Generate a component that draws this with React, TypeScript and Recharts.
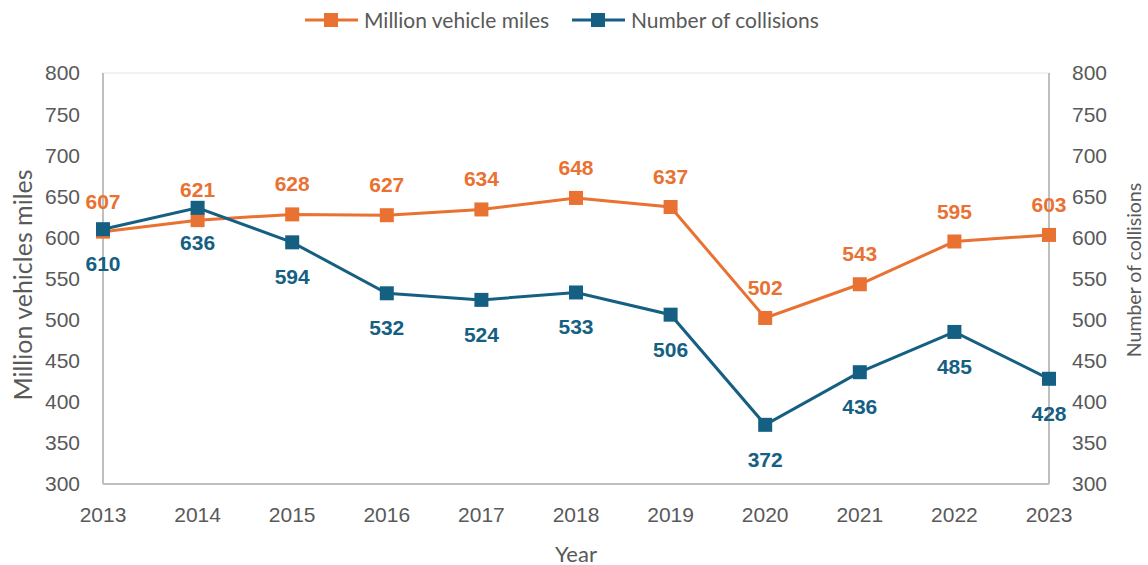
import { LineChart, Line, XAxis, YAxis, CartesianGrid, Legend, LabelList } from 'recharts';

const years = ['2013', '2014', '2015', '2016', '2017', '2018', '2019', '2020', '2021', '2022', '2023'];
const vehicleMiles = [607, 621, 628, 627, 634, 648, 637, 502, 543, 595, 603];
const collisions = [610, 636, 594, 532, 524, 533, 506, 372, 436, 485, 428];
const yTicks = [300, 350, 400, 450, 500, 550, 600, 650, 700, 750, 800];

const ORANGE = '#E97132';
const BLUE = '#156082';
const GRAY = '#595959';
const AXIS = '#bfbfbf';
const titleFont = 'Lato, "Noto Sans", sans-serif';
const tickFont = '"Liberation Sans", Arial, sans-serif';

const data = years.map((y, i) => ({ year: y, miles: vehicleMiles[i], collisions: collisions[i] }));

const squareDot = (color: string) => (props: any) => {
  const { cx, cy, index } = props;
  if (cx == null || cy == null) return null;
  return <rect key={index} x={cx - 7} y={cy - 7} width={14} height={14} fill={color} />;
};

const legendItems = [
  { name: 'Million vehicle miles', color: ORANGE, w: 208 },
  { name: 'Number of collisions', color: BLUE, w: 220 },
];

function TopLegend() {
  return (
    <div style={{ display: 'flex', paddingLeft: 305, fontFamily: titleFont, fontSize: 21, color: GRAY }}>
      {legendItems.map((it) => (
        <div key={it.name} style={{ display: 'flex', alignItems: 'center', width: 59 + it.w }}>
          <svg width={53} height={16} style={{ marginRight: 6 }}>
            <line x1={0} y1={8} x2={53} y2={8} stroke={it.color} strokeWidth={3} />
            <rect x={19} y={1} width={14} height={14} fill={it.color} />
          </svg>
          <span style={{ whiteSpace: 'nowrap' }}>{it.name}</span>
        </div>
      ))}
    </div>
  );
}

const axisTitle = (text: string, x: number, y: number, angle: number, size: number) => () => (
  <text
    x={x}
    y={y}
    transform={angle ? `rotate(${angle} ${x} ${y})` : undefined}
    textAnchor="middle"
    dominantBaseline="central"
    fill={GRAY}
    fontFamily={titleFont}
    fontSize={size}
  >
    {text}
  </text>
);

export default function App() {
  const tickStyle = { fontSize: 21, fill: GRAY, fontFamily: tickFont };
  return (
    <div style={{ position: 'absolute', left: 0, top: 0, width: 1148, height: 565, background: '#fff' }}>
      <LineChart width={1148} height={565} data={data} margin={{ top: 0, right: 0, left: 0, bottom: 0 }}>
        <Legend verticalAlign="top" height={73} content={() => <div style={{ paddingTop: 7 }}><TopLegend /></div>} />
        <CartesianGrid vertical={false} stroke="#ececec" strokeWidth={1.5} />
        <XAxis
          dataKey="year"
          height={81}
          tickSize={0}
          tickMargin={23}
          tick={tickStyle}
          axisLine={{ stroke: AXIS, strokeWidth: 2 }}
          tickLine={false}
          label={{ content: axisTitle('Year', 576, 553, 0, 22) }}
        />
        <YAxis
          yAxisId="left"
          domain={[300, 800]}
          ticks={yTicks}
          width={103}
          tickSize={0}
          tickMargin={23}
          tick={tickStyle}
          axisLine={{ stroke: AXIS, strokeWidth: 2 }}
          tickLine={false}
          label={{ content: axisTitle('Million vehicles miles', 22, 285, -90, 25) }}
        />
        <YAxis
          yAxisId="right"
          orientation="right"
          domain={[300, 800]}
          ticks={yTicks}
          width={99}
          tickSize={0}
          tickMargin={23}
          tick={tickStyle}
          axisLine={{ stroke: AXIS, strokeWidth: 2 }}
          tickLine={false}
          label={{ content: axisTitle('Number of collisions', 1133, 270, -90, 19.5) }}
        />
        <Line
          yAxisId="left"
          dataKey="miles"
          stroke={ORANGE}
          strokeWidth={3}
          dot={squareDot(ORANGE)}
          activeDot={false}
          isAnimationActive={false}
        >
          <LabelList dataKey="miles" position="top" offset={23} fill={ORANGE} fontSize={21} fontWeight="bold" fontFamily={tickFont} />
        </Line>
        <Line
          yAxisId="right"
          dataKey="collisions"
          stroke={BLUE}
          strokeWidth={3}
          dot={squareDot(BLUE)}
          activeDot={false}
          isAnimationActive={false}
        >
          <LabelList dataKey="collisions" position="bottom" offset={27} fill={BLUE} fontSize={21} fontWeight="bold" fontFamily={tickFont} />
        </Line>
      </LineChart>
    </div>
  );
}
